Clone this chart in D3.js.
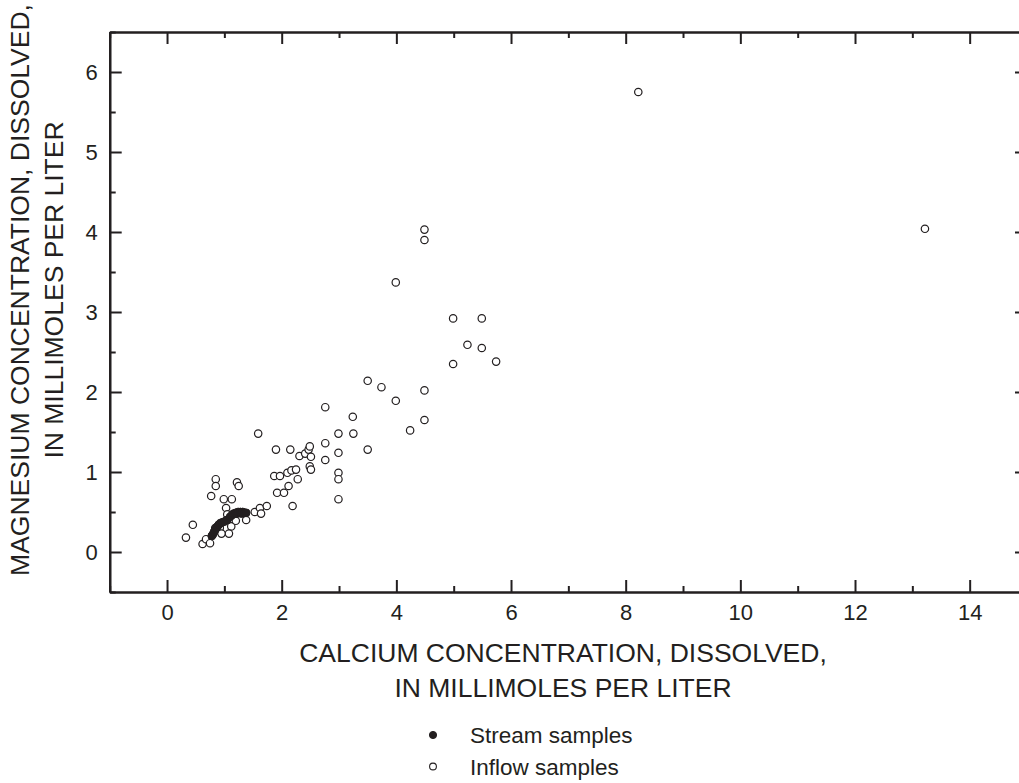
<!DOCTYPE html>
<html><head><meta charset="utf-8">
<script src="https://cdn.jsdelivr.net/npm/d3@7"></script>
<style>
body{margin:0;background:#fff;}
svg{display:block;font-family:"Liberation Sans",Arial,sans-serif;}
</style></head>
<body>
<svg id="c" width="1019" height="783"></svg>
<script>
// Calcium (x) vs Magnesium (y), millimoles per liter
const inflowCa = [0.33,0.45,0.62,0.68,0.75,0.77,0.85,0.85,1.22,1.25,0.99,1.13,1.03,1.05,1.04,0.94,0.92,1.12,1.08,0.95,0.84,1.20,1.38,
  1.53,1.62,1.64,1.74,1.59,1.90,2.15,1.87,1.97,2.10,2.17,2.25,2.28,2.12,1.92,2.04,2.19,
  2.31,2.41,2.47,2.49,2.51,2.49,2.51,2.76,2.76,2.76,2.99,3.25,3.24,2.99,3.50,2.99,2.99,2.99,
  3.50,3.74,3.99,4.49,4.49,4.24,3.99,4.49,4.49,4.99,5.49,5.24,5.49,5.74,4.99,8.22,13.22];
const inflowMg = [0.18,0.34,0.10,0.16,0.11,0.70,0.91,0.825,0.87,0.825,0.66,0.66,0.55,0.47,0.40,0.36,0.30,0.32,0.23,0.23,0.30,0.39,0.40,
  0.50,0.55,0.48,0.575,1.48,1.28,1.28,0.95,0.95,0.99,1.02,1.03,0.91,0.825,0.74,0.74,0.575,
  1.20,1.23,1.28,1.32,1.19,1.07,1.03,1.81,1.36,1.15,1.48,1.48,1.69,1.24,1.28,0.99,0.91,0.66,
  2.14,2.06,1.89,2.02,1.65,1.52,3.37,4.03,3.90,2.92,2.92,2.59,2.55,2.38,2.35,5.75,4.04];
const streamCa = [0.78,0.80,0.82,0.84,0.86,0.88,0.90,0.93,0.96,1.00,1.05,1.10,1.13,1.16,1.20,1.22,1.24,1.28,1.30,1.32,1.35,1.38];
const streamMg = [0.20,0.22,0.25,0.28,0.30,0.32,0.34,0.36,0.37,0.38,0.40,0.44,0.46,0.48,0.49,0.48,0.50,0.50,0.48,0.50,0.49,0.49];
const xMajorTicks = [0,2,4,6,8,10,12,14];
const xMinorTicks = [-1,1,3,5,7,9,11,13,15];
const yMajorTicks = [0,1,2,3,4,5,6];
const yMinorTicks = [-0.5,0.5,1.5,2.5,3.5,4.5,5.5,6.5];
const xTitle = ["CALCIUM CONCENTRATION, DISSOLVED,","IN MILLIMOLES PER LITER"];
const yTitle = ["MAGNESIUM CONCENTRATION, DISSOLVED,","IN MILLIMOLES PER LITER"];
const legendLabels = ["Stream samples","Inflow samples"];

const ink = "#231f20";
const svg = d3.select("#c");
const x = d3.scaleLinear().domain([-1,15]).range([109.7,1027]);
const y = d3.scaleLinear().domain([-0.5,6.5]).range([592,32]);
const L = x.range()[0], R = x.range()[1], T = y.range()[1], B = y.range()[0];

function styleAxis(g){
  g.selectAll("path.domain").attr("stroke",ink).attr("stroke-width",2.2);
  g.selectAll(".tick line").attr("stroke",ink).attr("stroke-width",2);
  g.selectAll(".tick text").attr("fill",ink).style("font-size","22px").style("font-family","'Liberation Sans',Arial,sans-serif");
}
// bottom
svg.append("g").attr("transform",`translate(0,${B})`)
  .call(d3.axisBottom(x).tickValues(xMinorTicks).tickSize(-6).tickSizeOuter(0).tickFormat(""))
  .call(styleAxis);
svg.append("g").attr("transform",`translate(0,${B})`)
  .call(d3.axisBottom(x).tickValues(xMajorTicks).tickSize(-12).tickSizeOuter(0).tickPadding(12).tickFormat(d3.format("d")))
  .call(styleAxis);
// top
svg.append("g").attr("transform",`translate(0,${T})`)
  .call(d3.axisTop(x).tickValues(xMinorTicks).tickSize(-6).tickSizeOuter(0).tickFormat(""))
  .call(styleAxis);
svg.append("g").attr("transform",`translate(0,${T})`)
  .call(d3.axisTop(x).tickValues(xMajorTicks).tickSize(-12).tickSizeOuter(0).tickFormat(""))
  .call(styleAxis);
// left
svg.append("g").attr("transform",`translate(${L},0)`)
  .call(d3.axisLeft(y).tickValues(yMinorTicks).tickSize(-6).tickSizeOuter(0).tickFormat(""))
  .call(styleAxis);
svg.append("g").attr("transform",`translate(${L},0)`)
  .call(d3.axisLeft(y).tickValues(yMajorTicks).tickSize(-12).tickSizeOuter(0).tickPadding(12).tickFormat(d3.format("d")))
  .call(styleAxis);
// right
svg.append("g").attr("transform",`translate(${R},0)`)
  .call(d3.axisRight(y).tickValues(yMinorTicks).tickSize(-6).tickSizeOuter(0).tickFormat(""))
  .call(styleAxis);
svg.append("g").attr("transform",`translate(${R},0)`)
  .call(d3.axisRight(y).tickValues(yMajorTicks).tickSize(-12).tickSizeOuter(0).tickFormat(""))
  .call(styleAxis);

// points
const inflow = inflowCa.map((c,i)=>({c, m: inflowMg[i]}));
const stream = streamCa.map((c,i)=>({c, m: streamMg[i]}));
svg.append("g").selectAll("circle").data(inflow).join("circle")
  .attr("cx",d=>x(d.c)).attr("cy",d=>y(d.m)).attr("r",3.7)
  .attr("fill","#fff").attr("stroke",ink).attr("stroke-width",1.2);
svg.append("g").selectAll("circle").data(stream).join("circle")
  .attr("cx",d=>x(d.c)).attr("cy",d=>y(d.m)).attr("r",3.9)
  .attr("fill",ink).attr("stroke",ink).attr("stroke-width",1);

// titles
svg.append("g").selectAll("text").data(xTitle).join("text")
  .attr("x",563).attr("y",(d,i)=>662+i*35).attr("text-anchor","middle")
  .attr("fill",ink).style("font-size","26.5px").text(d=>d);
svg.append("g")
  .selectAll("text").data(yTitle).join("text")
  .attr("transform",(d,i)=>`translate(${29+i*34},290) rotate(-90)`)
  .attr("text-anchor","middle").attr("fill",ink).style("font-size","26.5px").text(d=>d);

// legend
const leg = svg.append("g");
leg.append("circle").attr("cx",433).attr("cy",735).attr("r",3.6).attr("fill",ink).attr("stroke",ink);
leg.append("circle").attr("cx",433).attr("cy",766.5).attr("r",3.4).attr("fill","#fff").attr("stroke",ink).attr("stroke-width",1.1);
leg.selectAll("text").data(legendLabels).join("text")
  .attr("x",470).attr("y",(d,i)=>743+i*31.5).attr("fill",ink).style("font-size","22.5px").text(d=>d);
</script>
</body></html>
